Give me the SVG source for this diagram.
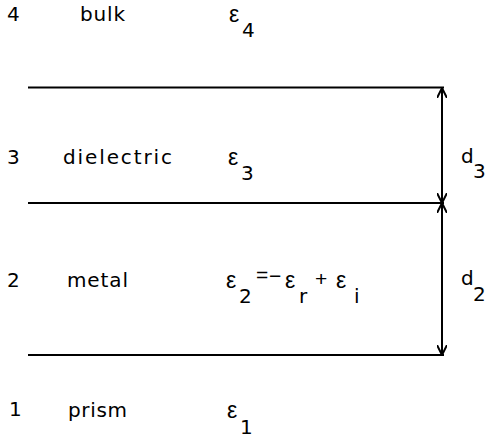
<svg xmlns="http://www.w3.org/2000/svg" width="487" height="439" viewBox="0 0 487 439">
<defs>
<style>
.t{font-family:"DejaVu Sans","Liberation Sans",sans-serif;font-size:20px;fill:#000}
.e{font-family:"Liberation Sans",Arial,sans-serif;font-size:23px;fill:#000}
.o{font-family:"Liberation Sans",Arial,sans-serif;font-size:21px;fill:#000}
.ln{stroke:#000;stroke-width:2;fill:none}
</style>
<marker id="ah" viewBox="0 0 10 10" refX="10" refY="5" markerWidth="10" markerHeight="10" markerUnits="userSpaceOnUse" orient="auto">
<path d="M0,0 L10,5 L0,10" fill="none" stroke="#000" stroke-width="2"/>
</marker>
</defs>
<rect width="487" height="439" fill="#fff"/>
<g id="interfaces">
<line class="ln" x1="28" y1="87.5" x2="444" y2="87.5"/>
<line class="ln" x1="28" y1="203" x2="444" y2="203"/>
<line class="ln" x1="28" y1="355" x2="444" y2="355"/>
</g>
<g id="connectors">
<line class="ln" x1="442" y1="145" x2="442" y2="88" marker-end="url(#ah)"/>
<line class="ln" x1="442" y1="145" x2="442" y2="203" marker-end="url(#ah)"/>
<line class="ln" x1="442" y1="280" x2="442" y2="203" marker-end="url(#ah)"/>
<line class="ln" x1="442" y1="280" x2="442" y2="355" marker-end="url(#ah)"/>
</g>
<g id="layer4">
<text class="t" x="7" y="21">4</text>
<text class="t" x="80" y="21" textLength="45" lengthAdjust="spacing">bulk</text>
<text class="e" x="229" y="22">ε</text>
<text class="t" x="242" y="37">4</text>
</g>
<g id="layer3">
<text class="t" x="7" y="164">3</text>
<text class="t" x="63" y="164" textLength="109" lengthAdjust="spacing">dielectric</text>
<text class="e" x="228" y="165">ε</text>
<text class="t" x="241" y="180">3</text>
</g>
<g id="d3">
<text class="t" x="461" y="163">d</text>
<text class="t" x="473" y="178">3</text>
</g>
<g id="layer2">
<text class="t" x="7" y="287">2</text>
<text class="t" x="67" y="287" textLength="61" lengthAdjust="spacing">metal</text>
<text class="e" x="226" y="288">ε</text>
<text class="t" x="239" y="303">2</text>
<text class="o" x="256" y="282">=</text>
<text class="o" x="269" y="283">−</text>
<text class="e" x="285" y="288">ε</text>
<text class="t" x="299" y="303">r</text>
<text class="o" x="315" y="286">+</text>
<text class="e" x="336" y="288">ε</text>
<text class="t" x="354" y="303">i</text>
</g>
<g id="d2">
<text class="t" x="461" y="285">d</text>
<text class="t" x="473" y="301">2</text>
</g>
<g id="layer1">
<text class="t" x="9" y="416">1</text>
<text class="t" x="68" y="417" textLength="59" lengthAdjust="spacing">prism</text>
<text class="e" x="227" y="418">ε</text>
<text class="t" x="240" y="434">1</text>
</g>
</svg>
